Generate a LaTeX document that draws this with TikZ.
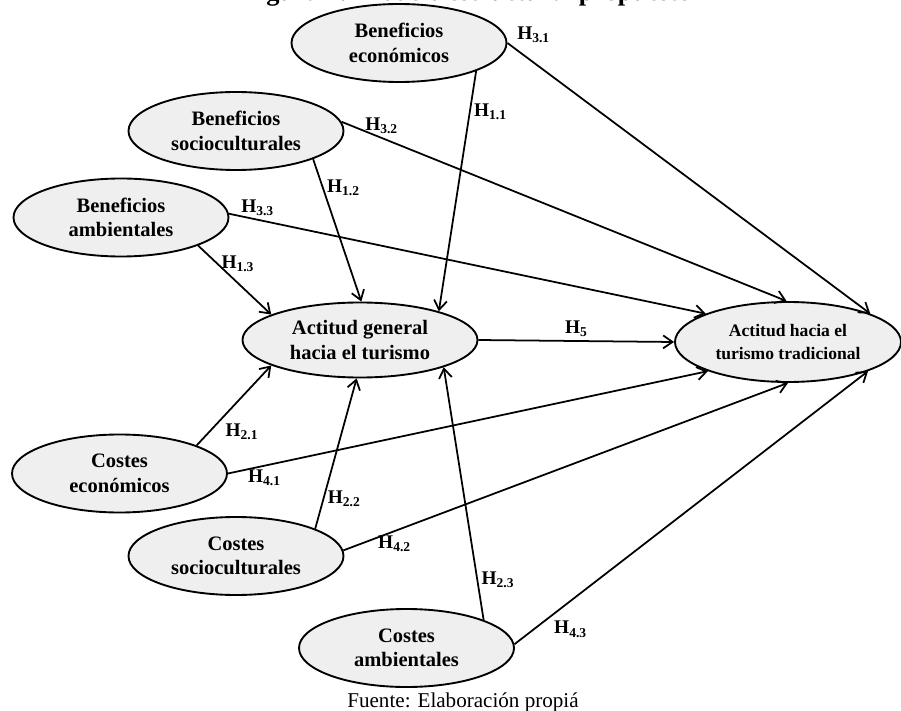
\documentclass[tikz,border=0pt]{standalone}
\usepackage{fontspec}
\setmainfont{Liberation Serif}
\usetikzlibrary{arrows.meta,shapes.geometric}
\definecolor{latfill}{HTML}{EFEFEF}
\tikzset{
  latent/.style={draw, ellipse, fill=latfill, line width=1.6pt, inner sep=0pt,
    minimum width=6.45cm, minimum height=2.34cm, align=center,
    font=\fontsize{17.5}{21}\selectfont\bfseries},
  mainlat/.style={latent, minimum width=7.05cm, minimum height=2.25cm},
  hyparrow/.style={-{Straight Barb[length=8pt,width=11pt]}, line width=1.5pt},
  hyplabel/.style={font=\fontsize{16.5}{18}\selectfont\bfseries, inner sep=3pt}
}
\newcommand{\hyp}[1]{H\textsubscript{#1}}
\begin{document}
\begin{tikzpicture}[x=0.03cm, y=-0.03cm]
	\useasboundingbox (0,0) rectangle (901,711);
	% title, cut by the top edge
	\node[font=\fontsize{22.5}{26}\selectfont\bfseries, anchor=base] (title) at (467,0.5) {Figura 1: Modelo estructural propuesto};
	%
	\node[latent] (be) at (399,  43  ) {Beneficios\\económicos};
	\node[latent] (bs) at (236,  131 ) {Beneficios\\socioculturales};
	\node[latent] (ba) at (121,  217.5) {Beneficios\\ambientales};
	\node[mainlat] (ag) at (360, 340 ) {Actitud general\\hacia el turismo};
	\node[latent, minimum width=6.78cm, minimum height=2.4cm, font=\fontsize{15}{19.5}\selectfont\bfseries] (atr) at (788,342) {Actitud hacia el\\turismo tradicional};
	\node[latent] (ce) at (119.5,473.5) {Costes\\económicos};
	\node[latent] (cs) at (236,  556 ) {Costes\\socioculturales};
	\node[latent] (ca) at (406.5,648 ) {Costes\\ambientales};
	%
	\node[font=\fontsize{18}{20}\selectfont, anchor=base] (source) at (463,707) {Fuente: Elaboración propiá};
	%
	\def\paths {be.340/ag.20/1.1/0.17/west, be.0/atr.19/3.1/0.015/south west,
		bs.340/ag.88/1.2/0.2/west, bs.5/atr.92/3.2/0.09/south,
		ba.340/ag.164/1.3/0.26/west, ba.2/atr.161/3.3/0.06/south,
		ag.0/atr.180/5/0.5/south,
		ce.20/ag.196/2.1/0.33/north west, ce.0/atr.200/4.1/0.076/north,
		cs.19/ag.265/2.2/0.2/west, cs.3/atr.270/4.2/0.115/north,
		ca.20/ag.342/2.3/0.16/west, ca.2/atr.340/4.3/0.1/north west}  % hypotheses
	\foreach \u/\v/\h/\p/\a in \paths
	{	\draw[hyparrow] (\u) -- (\v) node[hyplabel, pos=\p, anchor=\a] {\hyp{\h}};
	}
	%
\end{tikzpicture}
\end{document}
